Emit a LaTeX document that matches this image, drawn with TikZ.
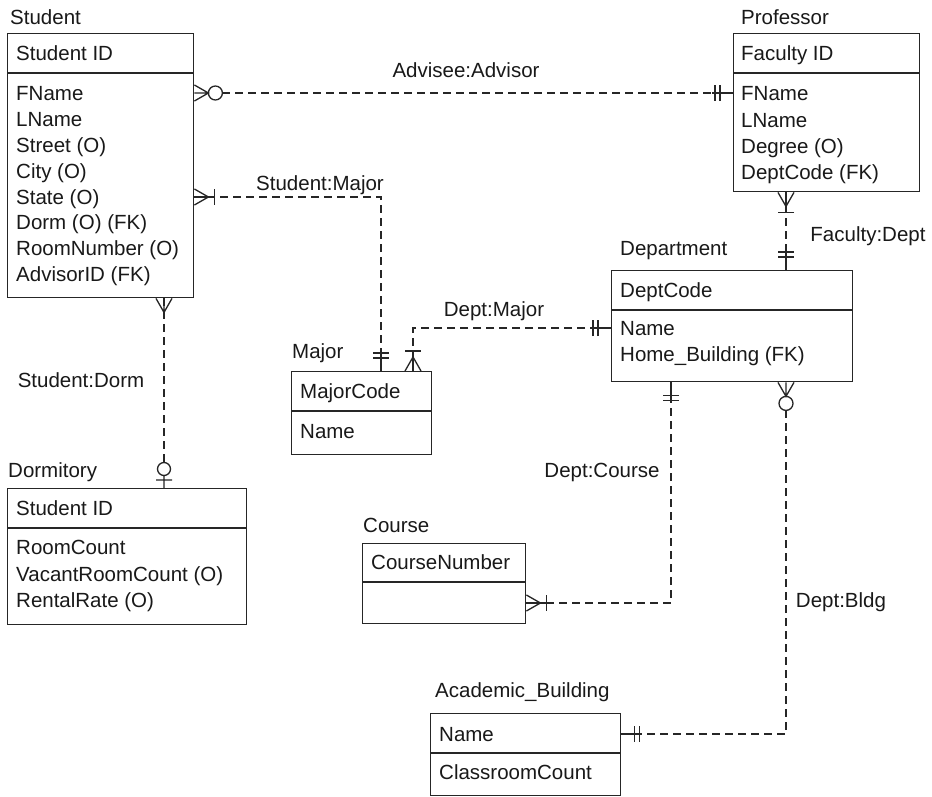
\documentclass[tikz,border=0pt]{standalone}
\usepackage{fontspec}
\setmainfont{Liberation Sans}
\usetikzlibrary{calc}
\tikzset{
  box/.style={draw=black!85, line width=1.4pt, inner sep=0pt, anchor=north west},
  divline/.style={draw=black!85, line width=1.4pt},
  txt/.style={font=\fontsize{20.5}{25}\selectfont, anchor=west, inner sep=0pt, text height=15pt, text depth=0pt, text=black!90},
  lbl/.style={font=\fontsize{20.5}{25}\selectfont, inner sep=0pt, text height=15pt, text depth=0pt, text=black!90},
  conn/.style={draw=black!85, line width=1.3pt, dash pattern=on 8pt off 5pt},
  sym/.style={draw=black!85, line width=1.3pt},
  many/.pic={\draw[sym] (0,-8)--(14,0)--(0,8) (0,0)--(14,0);},
  zeroc/.pic={\draw[sym] (21,0) circle[radius=7];},
  onebar/.pic={\draw[sym] (20,-8)--(20,8) (0,0)--(20,0);},
  twobar/.pic={\draw[sym] (13,-8)--(13,8) (18,-8)--(18,8) (0,0)--(21,0);},
  zeroone/.pic={\draw[sym] (8,-8)--(8,8) (0,0)--(12.5,0) (19,0) circle[radius=6.5];}
}
\begin{document}
\begin{tikzpicture}[x=1pt,y=-1pt]
\useasboundingbox[fill=white] (0,0) rectangle (932,797);

% ---------- Student
\node[lbl, anchor=west] (tStu) at (10,17) {Student};
\node[box, minimum width=186pt, minimum height=264pt] (stu) at (7,33) {};
\draw[divline] ($(stu.north west)+(0,40)$) -- ($(stu.north east)+(0,40)$);
\node[txt] (stuID) at (16,53) {Student ID};
\node[txt] (stuF) at (16,93) {FName};
\node[txt] (stuL) at (16,119) {LName};
\node[txt] (stuSt) at (16,145) {Street (O)};
\node[txt] (stuC) at (16,171) {City (O)};
\node[txt] (stuS) at (16,197) {State (O)};
\node[txt] (stuD) at (16,222) {Dorm (O) (FK)};
\node[txt] (stuR) at (16,248) {RoomNumber (O)};
\node[txt] (stuA) at (16,274) {AdvisorID (FK)};

% ---------- Professor
\node[lbl, anchor=west] (tProf) at (741,17) {Professor};
\node[box, minimum width=186pt, minimum height=158pt] (prof) at (733,33) {};
\draw[divline] ($(prof.north west)+(0,40)$) -- ($(prof.north east)+(0,40)$);
\node[txt] (profID) at (741,53) {Faculty ID};
\node[txt] (profF) at (741,93) {FName};
\node[txt] (profL) at (741,120) {LName};
\node[txt] (profDg) at (741,146) {Degree (O)};
\node[txt] (profDC) at (741,172) {DeptCode (FK)};

% ---------- Department
\node[lbl, anchor=west] (tDept) at (620,248) {Department};
\node[box, minimum width=241pt, minimum height=111pt] (dept) at (611,270) {};
\draw[divline] ($(dept.north west)+(0,40)$) -- ($(dept.north east)+(0,40)$);
\node[txt] (deptC) at (620,290) {DeptCode};
\node[txt] (deptN) at (620,328) {Name};
\node[txt] (deptH) at (620,354) {Home\_Building (FK)};

% ---------- Major
\node[lbl, anchor=west] (tMaj) at (292,351) {Major};
\node[box, minimum width=140pt, minimum height=83pt] (maj) at (291,371) {};
\draw[divline] ($(maj.north west)+(0,40)$) -- ($(maj.north east)+(0,40)$);
\node[txt] (majC) at (300,391) {MajorCode};
\node[txt] (majN) at (300,431) {Name};

% ---------- Dormitory
\node[lbl, anchor=west] (tDorm) at (8,470) {Dormitory};
\node[box, minimum width=239pt, minimum height=136pt] (dorm) at (7,488) {};
\draw[divline] ($(dorm.north west)+(0,40)$) -- ($(dorm.north east)+(0,40)$);
\node[txt] (dormID) at (16,508) {Student ID};
\node[txt] (dormR) at (16,547) {RoomCount};
\node[txt] (dormV) at (16,574) {VacantRoomCount (O)};
\node[txt] (dormRR) at (16,600) {RentalRate (O)};

% ---------- Course
\node[lbl, anchor=west] (tCourse) at (363,525) {Course};
\node[box, minimum width=163pt, minimum height=80pt] (course) at (362,543) {};
\draw[divline] ($(course.north west)+(0,39)$) -- ($(course.north east)+(0,39)$);
\node[txt] (courseN) at (371,562) {CourseNumber};

% ---------- Academic_Building
\node[lbl, anchor=west] (tBldg) at (435,690) {Academic\_Building};
\node[box, minimum width=190pt, minimum height=82pt] (bldg) at (430,713) {};
\draw[divline] ($(bldg.north west)+(0,40)$) -- ($(bldg.north east)+(0,40)$);
\node[txt] (bldgN) at (439,734) {Name};
\node[txt] (bldgC) at (439,772) {ClassroomCount};

% ---------- connection points
\coordinate (c1a) at (stu.east |- stuF);
\coordinate (c1b) at (prof.west |- profF);
\coordinate (c2a) at (stu.east |- stuS);
\coordinate (c2b) at ($(maj.north west)+(90,0)$);
\coordinate (c3a) at ($(prof.south west)+(53,0)$);
\coordinate (c3b) at ($(dept.north west)+(175,0)$);
\coordinate (c4a) at (dept.west |- deptN);
\coordinate (c4b) at ($(maj.north west)+(122,0)$);
\coordinate (c5a) at ($(stu.south west)+(157,0)$);
\coordinate (c5b) at ($(dorm.north west)+(157,0)$);
\coordinate (c6a) at ($(dept.south west)+(60,0)$);
\coordinate (c6b) at ($(course.north east)+(0,60)$);
\coordinate (c7a) at ($(dept.south west)+(175,0)$);
\coordinate (c7b) at (bldg.east |- bldgN);

% ---------- connectors
\draw[conn, shorten <=28pt] (c1a) -- (c1b);
\draw[conn] (c2a) -| (c2b);
\draw[conn] (c3a) -- (c3b);
\draw[conn] (c4a) -| (c4b);
\draw[conn, shorten >=26pt] (c5a) -- (c5b);
\draw[conn] (c6a) |- (c6b);
\draw[conn, shorten <=28pt] (c7a) |- (c7b);

% ---------- end symbols
\pic at (c1a) {many}; \pic at (c1a) {zeroc};
\pic[rotate=180] at (c1b) {twobar};
\pic at (c2a) {many}; \pic at (c2a) {onebar};
\pic[rotate=90] at (c2b) {twobar};
\pic[rotate=-90] at (c3a) {many}; \pic[rotate=-90] at (c3a) {onebar};
\pic[rotate=90] at (c3b) {twobar};
\pic[rotate=180] at (c4a) {twobar};
\pic[rotate=90] at (c4b) {many}; \pic[rotate=90] at (c4b) {onebar};
\pic[rotate=-90] at (c5a) {many};
\pic[rotate=90] at (c5b) {zeroone};
\pic[rotate=-90] at (c6a) {twobar};
\pic at (c6b) {many}; \pic at (c6b) {onebar};
\pic[rotate=-90] at (c7a) {many}; \pic[rotate=-90] at (c7a) {zeroc};
\pic at (c7b) {twobar};

% ---------- labels
\node[lbl] (l1) at (466,70) {Advisee:Advisor};
\node[lbl] (l2) at (320,183) {Student:Major};
\node[lbl] (l3) at (868,234) {Faculty:Dept};
\node[lbl] (l4) at (494,309) {Dept:Major};
\node[lbl] (l5) at (81,380) {Student:Dorm};
\node[lbl] (l6) at (602,470) {Dept:Course};
\node[lbl] (l7) at (841,600) {Dept:Bldg};
\end{tikzpicture}
\end{document}
